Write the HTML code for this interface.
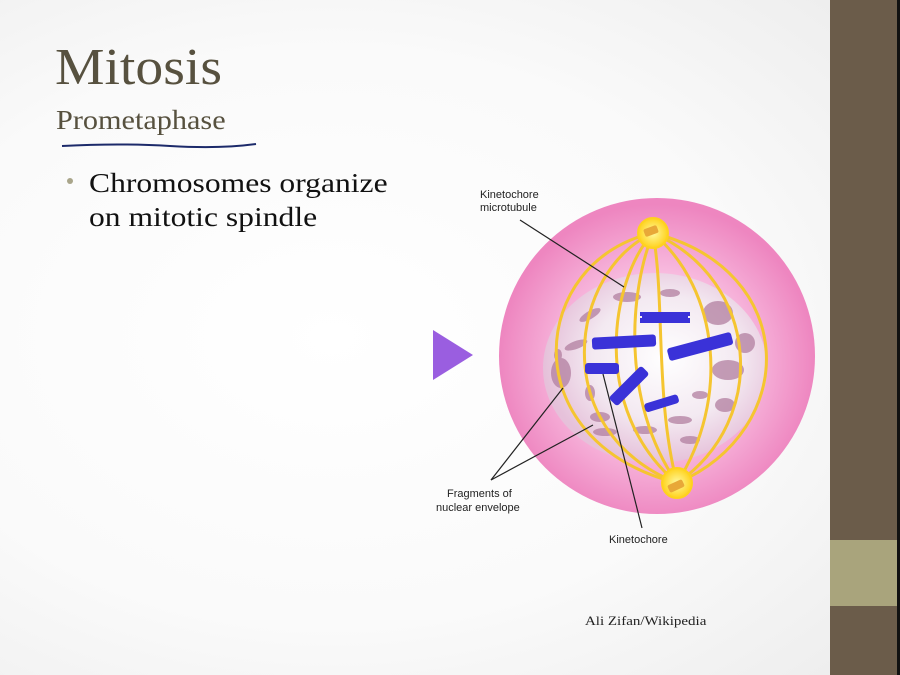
<!DOCTYPE html>
<html><head><meta charset="utf-8"><style>
html,body{margin:0;padding:0}
body{width:900px;height:675px;position:relative;overflow:hidden;background:#fbfbfb;font-family:"Liberation Serif",serif}
.t{position:absolute;color:#4f4a40;transform-origin:0 0;white-space:nowrap}
</style></head><body>
<div style="position:absolute;left:0;top:0;width:830px;height:675px;background:radial-gradient(ellipse at 40% 50%,#ffffff 0%,#fafafa 60%,#eeeeee 100%)"></div>
<div style="position:absolute;left:830px;top:0;width:67px;height:675px;background:#6b5c4a"></div>
<div style="position:absolute;left:830px;top:540px;width:67px;height:66px;background:#a9a47c"></div>
<div style="position:absolute;left:897px;top:0;width:3px;height:675px;background:#111"></div>
<div class="t" style="left:55px;top:38px;font-size:52px;line-height:60px;color:#57513f;transform:scaleX(1.07)">Mitosis</div>
<div class="t" style="left:56px;top:104px;font-size:27px;line-height:32px;color:#57513f;transform:scaleX(1.12)">Prometaphase</div>
<svg style="position:absolute;left:0;top:0" width="900" height="675">
<path d="M62 146 Q120 143 170 146 T256 144" stroke="#1c2a6a" stroke-width="2" fill="none"/>
</svg>
<div style="position:absolute;left:67px;top:178px;width:6px;height:6px;border-radius:50%;background:#a9a58a"></div>
<div class="t" style="left:89px;top:166px;font-size:27px;line-height:34px;color:#111;transform:scaleX(1.17)">Chromosomes organize<br>on mitotic spindle</div>
<svg style="position:absolute;left:0;top:0" width="900" height="675">
<defs>
<radialGradient id="cell" cx="50%" cy="52%" r="50%">
<stop offset="0.55" stop-color="#f8bde0"/><stop offset="1" stop-color="#ee86c0"/></radialGradient>
<radialGradient id="nuc" cx="55%" cy="45%" r="55%">
<stop offset="0" stop-color="#ffffff"/><stop offset="0.6" stop-color="#f3e9f1"/><stop offset="1" stop-color="#e4c3da" stop-opacity="0.9"/></radialGradient>
<radialGradient id="pole"><stop offset="0" stop-color="#fff9a0"/><stop offset="1" stop-color="#ffd21e"/></radialGradient>
</defs>
<polygon points="433,330 473,355 433,380" fill="#9a5ee0"/>
<ellipse cx="657" cy="356" rx="158" ry="158" fill="url(#cell)"/>
<ellipse cx="655" cy="368" rx="112" ry="95" fill="url(#nuc)"/>
<g fill="#b27fa0" opacity="0.75">
<ellipse cx="627" cy="297" rx="14" ry="5"/><ellipse cx="670" cy="293" rx="10" ry="4"/>
<ellipse cx="718" cy="313" rx="15" ry="12"/><ellipse cx="745" cy="343" rx="10" ry="10"/>
<ellipse cx="728" cy="370" rx="16" ry="10"/><ellipse cx="725" cy="405" rx="10" ry="7"/>
<ellipse cx="561" cy="373" rx="10" ry="15"/><ellipse cx="558" cy="355" rx="4" ry="6"/>
<ellipse cx="590" cy="315" rx="12" ry="4" transform="rotate(-30 590 315)"/>
<ellipse cx="576" cy="345" rx="12" ry="4" transform="rotate(-20 576 345)"/>
<ellipse cx="600" cy="417" rx="10" ry="5"/><ellipse cx="605" cy="432" rx="12" ry="4"/>
<ellipse cx="645" cy="430" rx="12" ry="4"/><ellipse cx="680" cy="420" rx="12" ry="4"/>
<ellipse cx="690" cy="440" rx="10" ry="4"/><ellipse cx="700" cy="395" rx="8" ry="4"/>
<ellipse cx="590" cy="393" rx="5" ry="8"/>
</g>
<g stroke="#f5c530" stroke-width="3" fill="none">
<path d="M653 233 C530 260 510 440 677 483"/>
<path d="M653 233 C570 270 545 430 677 483"/>
<path d="M653 233 C610 280 590 410 677 483"/>
<path d="M653 233 C630 290 620 400 677 483"/>
<path d="M653 233 C665 300 655 400 677 483"/>
<path d="M653 233 C720 290 730 400 677 483"/>
<path d="M653 233 C760 280 770 420 677 483"/>
<path d="M653 233 C800 270 800 430 677 483"/>
</g>
<g fill="url(#pole)" stroke="#ffd21e" stroke-width="2">
<circle cx="653" cy="233" r="15"/><circle cx="677" cy="483" r="15"/>
</g>
<rect x="644" y="227" width="14" height="8" rx="2" fill="#e8a838" transform="rotate(-20 651 231)"/>
<rect x="668" y="482" width="16" height="8" rx="2" fill="#e8a838" transform="rotate(-25 676 486)"/>
<g fill="#3a32d8">
<path d="M640 312 h50 v4 h-2 v2 h2 v5 h-50 v-5 h2 v-2 h-2z"/>
<rect x="592" y="336" width="64" height="12" rx="3" transform="rotate(-3 624 342)"/>
<rect x="667" y="340" width="66" height="13" rx="3" transform="rotate(-15 700 346)"/>
<rect x="585" y="363" width="34" height="11" rx="3"/>
<rect x="606" y="380" width="46" height="12" rx="3" transform="rotate(-45 629 386)"/>
<rect x="644" y="399" width="35" height="9" rx="3" transform="rotate(-17 661 403)"/>
</g>
<g stroke="#222" stroke-width="1.2" fill="none">
<line x1="520" y1="220" x2="624" y2="287"/>
<line x1="491" y1="480" x2="563" y2="388"/>
<line x1="491" y1="480" x2="593" y2="425"/>
<line x1="603" y1="374" x2="642" y2="528"/>
</g>
<g font-family="Liberation Sans,sans-serif" font-size="11" fill="#222">
<text x="480" y="198">Kinetochore</text><text x="480" y="211">microtubule</text>
<text x="447" y="497">Fragments of</text><text x="436" y="511">nuclear envelope</text>
<text x="609" y="543">Kinetochore</text>
</g>
<text x="585" y="625" font-family="Liberation Serif,serif" font-size="12.5" fill="#222" transform="translate(585 0) scale(1.2 1) translate(-585 0)">Ali Zifan/Wikipedia</text>
</svg>
</body></html>
